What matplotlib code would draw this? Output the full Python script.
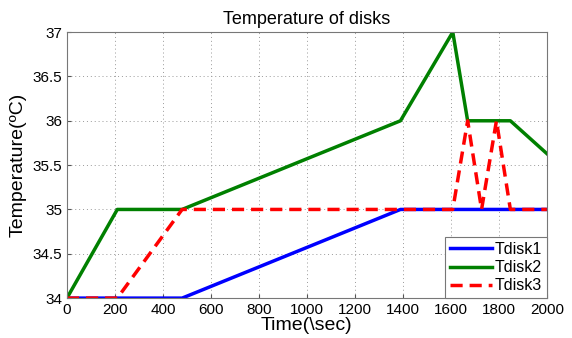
import matplotlib
matplotlib.use('Agg')
import matplotlib.pyplot as plt

plt.rcParams['font.family'] = ['Liberation Sans', 'DejaVu Sans']

# disk temperature traces (time in sec, temperature in C)
t1 = [0, 480, 1390, 2000]
tdisk1 = [34, 34, 35, 35]

t2 = [0, 210, 480, 1390, 1608, 1670, 1848, 2000]
tdisk2 = [34, 35, 35, 36, 37, 36, 36, 35.63]

t3 = [0, 210, 480, 1608, 1670, 1728, 1790, 1848, 2000]
tdisk3 = [34, 34, 35, 35, 36, 35, 36, 35, 35]

fig = plt.figure(figsize=(5.72, 3.38), dpi=100)
ax = fig.add_axes([0.117, 0.118, 0.839, 0.787])

ax.plot(t1, tdisk1, color=(0, 0, 1), linewidth=2.5, label='Tdisk1')
ax.plot(t2, tdisk2, color=(0, 0.5, 0), linewidth=2.5, label='Tdisk2')
ax.plot(t3, tdisk3, color=(1, 0, 0), linewidth=2.5, linestyle=(0, (3.5, 2)), label='Tdisk3')

ax.set_xlim(0, 2000)
ax.set_ylim(34, 37)
ax.set_xticks(range(0, 2001, 200))
ax.set_yticks([34, 34.5, 35, 35.5, 36, 36.5, 37])
ax.set_yticklabels(['34', '34.5', '35', '35.5', '36', '36.5', '37'])
ax.grid(True, linestyle=(0, (1, 3)), color='#999999', linewidth=0.7)
ax.tick_params(labelsize=11, direction='in', length=3, color='#555555')
for s in ax.spines.values():
    s.set_color('#777777')

ax.set_title('Temperature of disks', fontsize=13, pad=6)
ax.set_xlabel('Time(\\sec)', fontsize=14, labelpad=0)
ax.set_ylabel('Temperature(ºC)', fontsize=14, labelpad=4)

leg = ax.legend(loc='lower right', fontsize=11.5, fancybox=False, framealpha=1,
                edgecolor='#777777', borderaxespad=0, handlelength=2.6,
                handletextpad=0.2, labelspacing=0.2, borderpad=0.3)
leg.get_frame().set_linewidth(0.8)

fig.savefig('out.png', dpi=100)
